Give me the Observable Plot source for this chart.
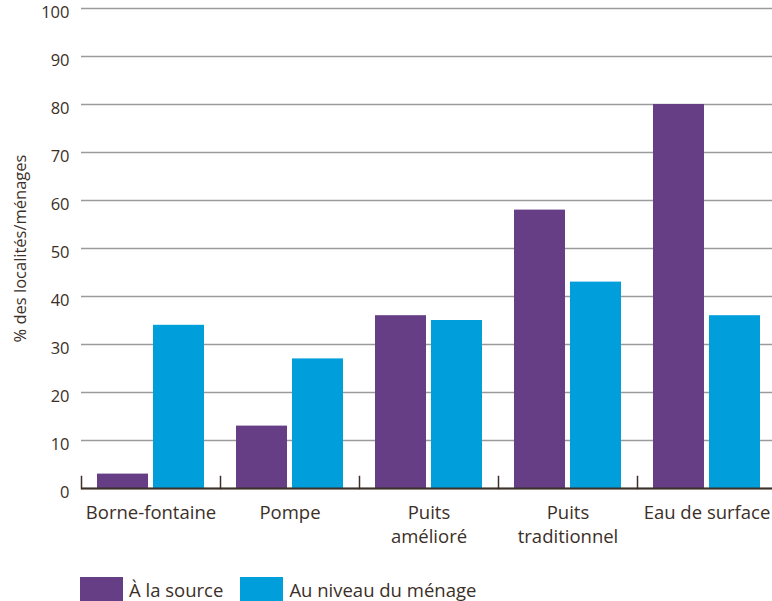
<!DOCTYPE html>
<html><head><meta charset="utf-8">
<script src="https://cdn.jsdelivr.net/npm/d3@7"></script>
<script src="https://cdn.jsdelivr.net/npm/@observablehq/plot@0.6"></script>
<style>
body{margin:0;background:#fff;font-family:"Open Sans",sans-serif;color:#3b2f28}
#chart svg{display:block}
#legend{display:flex;align-items:center;margin-left:80px;margin-top:3px;height:24px;font-size:18.5px}
.sw{width:43px;height:24px;display:inline-block;margin-right:6px}
.item{display:flex;align-items:center;margin-right:17px}
</style></head><body><div id="chart"></div><div id="legend"></div><script>
const categories = ["Borne-fontaine","Pompe","Puits amélioré","Puits traditionnel","Eau de surface"];
const categoryLabels = ["Borne-fontaine","Pompe","Puits\namélioré","Puits\ntraditionnel","Eau de surface"];
const series = ["À la source","Au niveau du ménage"];
const sourceValues = [3,13,36,58,80];
const householdValues = [34,27,35,43,36];
const colors = ["#653e86","#009edb"];
const yTicks = [0,10,20,30,40,50,60,70,80,90,100];
const yLabel = "% des localités/ménages";

const data = categories.flatMap((c,i)=>[
  {cat:c, series:series[0], value:sourceValues[i]},
  {cat:c, series:series[1], value:householdValues[i]}
]);
const ink = "#3b2f28";
const chart = Plot.plot({
  width:772, height:574, marginTop:8, marginLeft:81, marginRight:-4, marginBottom:86,
  style:{fontFamily:"Open Sans", fontSize:"16px", color:ink, background:"white", overflow:"visible"},
  fx:{domain:categories, padding:0, label:null, axis:null},
  x:{domain:series, axis:null, paddingInner:0.09, paddingOuter:0.2857},
  y:{domain:[0,100], axis:null},
  color:{domain:series, range:colors},
  marks:[
    Plot.gridY(yTicks, {stroke:"#9a9a9a", strokeOpacity:1, strokeWidth:1.5}),
    Plot.barY(data, {fx:"cat", x:"series", y:"value", fill:"series"}),
    Plot.ruleY([0], {stroke:ink, strokeWidth:2}),
    Plot.frame({anchor:"left", insetTop:468, stroke:ink, strokeWidth:1.5}),
    Plot.axisY(yTicks, {tickSize:0, tickPadding:12, fontSize:16.5, dy:4, label:null}),
    Plot.axisY({tickSize:0, ticks:[], line:true, stroke:ink, strokeWidth:2,
      label:yLabel, labelAnchor:"center", labelOffset:67, labelArrow:"none", fontSize:16.5}),
    Plot.axisFx({anchor:"bottom", tickSize:0, tickPadding:13, label:null, lineHeight:1.32, fontSize:18.5,
      tickFormat:d=>categoryLabels[categories.indexOf(d)]})
  ]
});
document.getElementById("chart").append(chart);
const lg = document.getElementById("legend");
series.forEach((s,i)=>{
  const it = document.createElement("div"); it.className="item";
  const sw = document.createElement("span"); sw.className="sw"; sw.style.background=colors[i];
  it.append(sw, document.createTextNode(s));
  lg.append(it);
});
</script></body></html>
